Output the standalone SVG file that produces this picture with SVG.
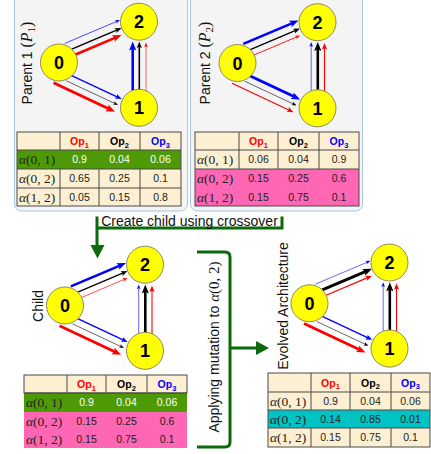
<svg xmlns="http://www.w3.org/2000/svg" width="431" height="454" viewBox="0 0 431 454">
<style>
.panel{fill:#f4f4f4;stroke:#a8c6e4;stroke-width:1}
.node circle{fill:#ffff00;stroke:#8c8c5a;stroke-width:1}
.node text{font-family:"Liberation Sans",Arial,sans-serif;font-weight:bold;font-size:18px;text-anchor:middle;fill:#000}
.e line{fill:none;stroke-linecap:butt}
.r{stroke:#ff0000}.k{stroke:#000000}.b{stroke:#0000ff}
.lbl{font-family:"Liberation Sans",Arial,sans-serif;font-size:14px;fill:#111;text-anchor:middle}
.math{font-family:"Liberation Serif","Times New Roman",serif}
.grid{fill:none;stroke:#4a4a4a;stroke-width:1}
.cr{fill:#fdefd2}.gr{fill:#4e9a06}.pk{fill:#ff66b3}.cy{fill:#00c4c4}
.v{font-family:"Liberation Sans",Arial,sans-serif;font-size:10.5px;text-anchor:middle;fill:#222}
.w{fill:#ffffff}
.a{font-family:"Liberation Serif","Times New Roman",serif;font-size:13.5px;fill:#222}
.op{font-family:"Liberation Sans",Arial,sans-serif;font-weight:bold;font-size:10.5px;text-anchor:middle}
.flow{fill:none;stroke:#0b6a0b;stroke-width:3}
.head{fill:#0b6a0b}
</style>
<defs>
<marker id="rL" markerUnits="userSpaceOnUse" markerWidth="10" markerHeight="8" refX="5" refY="3.6" orient="auto" overflow="visible"><path d="M0,0 L9,3.6 L0,7.2 L1.8,3.6z" fill="#ff0000"/></marker>
<marker id="kL" markerUnits="userSpaceOnUse" markerWidth="10" markerHeight="8" refX="5" refY="3.6" orient="auto" overflow="visible"><path d="M0,0 L9,3.6 L0,7.2 L1.8,3.6z" fill="#000000"/></marker>
<marker id="bL" markerUnits="userSpaceOnUse" markerWidth="10" markerHeight="8" refX="5" refY="3.6" orient="auto" overflow="visible"><path d="M0,0 L9,3.6 L0,7.2 L1.8,3.6z" fill="#0000ff"/></marker>
<marker id="rM" markerUnits="userSpaceOnUse" markerWidth="7" markerHeight="6" refX="2.5" refY="2.6" orient="auto" overflow="visible"><path d="M0,0 L6.5,2.6 L0,5.2 L1.3,2.6z" fill="#ff0000"/></marker>
<marker id="kM" markerUnits="userSpaceOnUse" markerWidth="7" markerHeight="6" refX="2.5" refY="2.6" orient="auto" overflow="visible"><path d="M0,0 L6.5,2.6 L0,5.2 L1.3,2.6z" fill="#000000"/></marker>
<marker id="bM" markerUnits="userSpaceOnUse" markerWidth="7" markerHeight="6" refX="2.5" refY="2.6" orient="auto" overflow="visible"><path d="M0,0 L6.5,2.6 L0,5.2 L1.3,2.6z" fill="#0000ff"/></marker>
<marker id="rS" markerUnits="userSpaceOnUse" markerWidth="5" markerHeight="4" refX="0.8" refY="1.8" orient="auto" overflow="visible"><path d="M0,0 L4.8,1.8 L0,3.6 L1,1.8z" fill="#ff0000"/></marker>
<marker id="kS" markerUnits="userSpaceOnUse" markerWidth="5" markerHeight="4" refX="0.8" refY="1.8" orient="auto" overflow="visible"><path d="M0,0 L4.8,1.8 L0,3.6 L1,1.8z" fill="#000000"/></marker>
<marker id="bS" markerUnits="userSpaceOnUse" markerWidth="5" markerHeight="4" refX="0.8" refY="1.8" orient="auto" overflow="visible"><path d="M0,0 L4.8,1.8 L0,3.6 L1,1.8z" fill="#0000ff"/></marker>
</defs>

<!-- parent panels -->
<rect class="panel" x="14.5" y="-8" width="173" height="219" rx="7"/>
<rect class="panel" x="190.5" y="-8" width="172" height="219" rx="7"/>

<!-- rotated captions -->
<text class="lbl" transform="translate(32,63) rotate(-90)">Parent 1 <tspan class="math" font-size="16">(</tspan><tspan class="math" font-size="16" font-style="italic">P</tspan><tspan class="math" font-size="11" dy="3">1</tspan><tspan class="math" font-size="16" dy="-3">)</tspan></text>
<text class="lbl" transform="translate(210,63) rotate(-90)">Parent 2 <tspan class="math" font-size="16">(</tspan><tspan class="math" font-size="16" font-style="italic">P</tspan><tspan class="math" font-size="11" dy="3">2</tspan><tspan class="math" font-size="16" dy="-3">)</tspan></text>
<text class="lbl" transform="translate(43,306) rotate(-90)">Child</text>
<text class="lbl" transform="translate(288,306) rotate(-90)">Evolved Architecture</text>

<!-- connectors -->
<g id="connectors">
  <g id="p1-edges" class="e" transform="translate(59,62.5)">
    <line class="b" x1="5.8" y1="-19.1" x2="57.3" y2="-40.9" stroke-width="0.7" marker-end="url(#bS)"/>
    <line class="k" x1="12.8" y1="-13.4" x2="58.8" y2="-32.9" stroke-width="1.4" marker-end="url(#kM)"/>
    <line class="r" x1="13.7" y1="-6.8" x2="58.8" y2="-25.9" stroke-width="2.6" marker-end="url(#rL)"/>
    <line class="b" x1="11.1" y1="12.3" x2="59.1" y2="34.8" stroke-width="1.3" marker-end="url(#bM)"/>
    <line class="k" x1="7.4" y1="18.3" x2="55.4" y2="40.8" stroke-width="0.6" marker-end="url(#kS)"/>
    <line class="r" x1="-5.5" y1="20.3" x2="52.4" y2="47.5" stroke-width="2.8" marker-end="url(#rL)"/>
    <line class="b" x1="73.7" y1="28" x2="73.7" y2="-17" stroke-width="2.6" marker-end="url(#bL)"/>
    <line class="k" x1="80.3" y1="28" x2="80.3" y2="-17" stroke-width="1.6" marker-end="url(#kM)"/>
    <line class="r" x1="87" y1="29" x2="87" y2="-16" stroke-width="0.6" marker-end="url(#rS)"/>
  </g>
  <g id="p2-edges" class="e" transform="translate(237.5,63)">
    <line class="b" x1="5.8" y1="-19.1" x2="57.3" y2="-40.9" stroke-width="2.6" marker-end="url(#bL)"/>
    <line class="k" x1="12.8" y1="-13.4" x2="58.8" y2="-32.9" stroke-width="1.3" marker-end="url(#kM)"/>
    <line class="r" x1="13.7" y1="-6.8" x2="58.8" y2="-25.9" stroke-width="0.9" marker-end="url(#rS)"/>
    <line class="b" x1="11.1" y1="12.3" x2="59.1" y2="34.8" stroke-width="2.8" marker-end="url(#bL)"/>
    <line class="k" x1="7.4" y1="18.3" x2="55.4" y2="40.8" stroke-width="0.6" marker-end="url(#kS)"/>
    <line class="r" x1="-5.5" y1="20.3" x2="52.4" y2="47.5" stroke-width="1.2" marker-end="url(#rM)"/>
    <line class="b" x1="73.7" y1="28" x2="73.7" y2="-17" stroke-width="0.6" marker-end="url(#bS)"/>
    <line class="k" x1="80.3" y1="28" x2="80.3" y2="-17" stroke-width="2.6" marker-end="url(#kL)"/>
    <line class="r" x1="87" y1="29" x2="87" y2="-16" stroke-width="1.1" marker-end="url(#rM)"/>
  </g>
  <g id="child-edges" class="e" transform="translate(65,305.5)">
    <line class="b" x1="5.8" y1="-19.1" x2="57.3" y2="-40.9" stroke-width="2.6" marker-end="url(#bL)"/>
    <line class="k" x1="12.8" y1="-13.4" x2="58.8" y2="-32.9" stroke-width="1.3" marker-end="url(#kM)"/>
    <line class="r" x1="13.7" y1="-6.8" x2="58.8" y2="-25.9" stroke-width="0.7" marker-end="url(#rS)"/>
    <line class="b" x1="11.1" y1="12.3" x2="59.1" y2="34.8" stroke-width="1.3" marker-end="url(#bM)"/>
    <line class="k" x1="7.4" y1="18.3" x2="55.4" y2="40.8" stroke-width="0.6" marker-end="url(#kS)"/>
    <line class="r" x1="-5.5" y1="20.3" x2="52.4" y2="47.5" stroke-width="2.8" marker-end="url(#rL)"/>
    <line class="b" x1="73.7" y1="28" x2="73.7" y2="-17" stroke-width="0.6" marker-end="url(#bS)"/>
    <line class="k" x1="80.3" y1="28" x2="80.3" y2="-17" stroke-width="2.6" marker-end="url(#kL)"/>
    <line class="r" x1="87" y1="29" x2="87" y2="-16" stroke-width="1.1" marker-end="url(#rM)"/>
  </g>
  <g id="evolved-edges" class="e" transform="translate(309.5,303.3)">
    <line class="b" x1="5.8" y1="-19.1" x2="57.3" y2="-40.9" stroke-width="0.6" marker-end="url(#bS)"/>
    <line class="k" x1="12.8" y1="-13.4" x2="58.8" y2="-32.9" stroke-width="2.8" marker-end="url(#kL)"/>
    <line class="r" x1="13.7" y1="-6.8" x2="58.8" y2="-25.9" stroke-width="1.2" marker-end="url(#rM)"/>
    <line class="b" x1="11.1" y1="12.3" x2="59.1" y2="34.8" stroke-width="1.3" marker-end="url(#bM)"/>
    <line class="k" x1="7.4" y1="18.3" x2="55.4" y2="40.8" stroke-width="0.6" marker-end="url(#kS)"/>
    <line class="r" x1="-5.5" y1="20.3" x2="52.4" y2="47.5" stroke-width="2.8" marker-end="url(#rL)"/>
    <line class="b" x1="73.7" y1="28" x2="73.7" y2="-17" stroke-width="0.6" marker-end="url(#bS)"/>
    <line class="k" x1="80.3" y1="28" x2="80.3" y2="-17" stroke-width="2.6" marker-end="url(#kL)"/>
    <line class="r" x1="87" y1="29" x2="87" y2="-16" stroke-width="1.1" marker-end="url(#rM)"/>
  </g>
  <!-- crossover and mutation flow -->
  <g id="flow">
    <path class="flow" d="M282,216.5 V228 H97 M97,216.5 V247"/>
    <polygon class="head" points="90.5,245 104.5,245 97.5,258.5"/>
    <path class="flow" d="M197,252 H225 Q230,252 230,257 V442 Q230,447 225,447 H197 M230,348 H258"/>
    <polygon class="head" points="256,341 256,355 269,348"/>
  </g>
</g>
<text class="lbl" x="189.5" y="226" font-size="13.7">Create child using crossover</text>
<text class="lbl" transform="translate(219,347) rotate(-90)" font-size="14.5">Applying mutation to <tspan class="math" font-size="15"><tspan font-style="italic">α</tspan>(0, 2)</tspan></text>

<!-- nodes -->
<g id="p1-n0" class="node"><circle cx="59" cy="62.5" r="18.5"/><text x="59" y="69">0</text></g>
<g id="p1-n1" class="node"><circle cx="139" cy="107.8" r="18.5"/><text x="139" y="114.3">1</text></g>
<g id="p1-n2" class="node"><circle cx="139" cy="21.7" r="18.5"/><text x="139" y="28.2">2</text></g>
<g id="p2-n0" class="node"><circle cx="237.5" cy="63" r="18.5"/><text x="237.5" y="69.5">0</text></g>
<g id="p2-n1" class="node"><circle cx="317.5" cy="108.3" r="18.5"/><text x="317.5" y="114.8">1</text></g>
<g id="p2-n2" class="node"><circle cx="317.5" cy="22.2" r="18.5"/><text x="317.5" y="28.7">2</text></g>
<g id="child-n0" class="node"><circle cx="65" cy="305.5" r="18.5"/><text x="65" y="312">0</text></g>
<g id="child-n1" class="node"><circle cx="145" cy="350.8" r="18.5"/><text x="145" y="357.3">1</text></g>
<g id="child-n2" class="node"><circle cx="145" cy="264.7" r="18.5"/><text x="145" y="271.2">2</text></g>
<g id="evolved-n0" class="node"><circle cx="309.5" cy="303.3" r="18.5"/><text x="309.5" y="309.8">0</text></g>
<g id="evolved-n1" class="node"><circle cx="389.5" cy="348.6" r="18.5"/><text x="389.5" y="355.1">1</text></g>
<g id="evolved-n2" class="node"><circle cx="389.5" cy="262.5" r="18.5"/><text x="389.5" y="269">2</text></g>

<!-- table: parent 1 -->
<g id="table-p1">
  <rect class="cr" x="17" y="132" width="164" height="18"/>
  <rect class="gr" x="17" y="150" width="164" height="19"/>
  <rect class="cr" x="17" y="169" width="164" height="37"/>
  <path class="grid" d="M17,150H181M17,169H181M17,188H181M60,132V150M99,132V150M140,132V150M60,169V206M99,169V206M140,169V206"/>
  <rect class="grid" x="17" y="132" width="164" height="74"/>
  <text class="op" x="79.5" y="145" fill="#ff0000">Op<tspan font-size="7.5" dy="2.5">1</tspan></text>
  <text class="op" x="119.5" y="145" fill="#000000">Op<tspan font-size="7.5" dy="2.5">2</tspan></text>
  <text class="op" x="160.5" y="145" fill="#0000ff">Op<tspan font-size="7.5" dy="2.5">3</tspan></text>
  <text class="a w" x="19" y="164"><tspan font-style="italic">α</tspan>(0, 1)</text>
  <text class="a" x="19" y="183"><tspan font-style="italic">α</tspan>(0, 2)</text>
  <text class="a" x="19" y="201.5"><tspan font-style="italic">α</tspan>(1, 2)</text>
  <text class="v w" x="79.5" y="163.3">0.9</text><text class="v w" x="119.5" y="163.3">0.04</text><text class="v w" x="160.5" y="163.3">0.06</text>
  <text class="v" x="79.5" y="182.3">0.65</text><text class="v" x="119.5" y="182.3">0.25</text><text class="v" x="160.5" y="182.3">0.1</text>
  <text class="v" x="79.5" y="200.8">0.05</text><text class="v" x="119.5" y="200.8">0.15</text><text class="v" x="160.5" y="200.8">0.8</text>
</g>

<!-- table: parent 2 -->
<g id="table-p2">
  <rect class="cr" x="195" y="132" width="164" height="37"/>
  <rect class="pk" x="195" y="169" width="164" height="37"/>
  <path class="grid" d="M195,150H359M195,169H359M239,132V169M278,132V169M319,132V169"/>
  <rect class="grid" x="195" y="132" width="164" height="74"/>
  <text class="op" x="258.5" y="145" fill="#ff0000">Op<tspan font-size="7.5" dy="2.5">1</tspan></text>
  <text class="op" x="298.5" y="145" fill="#000000">Op<tspan font-size="7.5" dy="2.5">2</tspan></text>
  <text class="op" x="339" y="145" fill="#0000ff">Op<tspan font-size="7.5" dy="2.5">3</tspan></text>
  <text class="a" x="197" y="164"><tspan font-style="italic">α</tspan>(0, 1)</text>
  <text class="a" x="197" y="183"><tspan font-style="italic">α</tspan>(0, 2)</text>
  <text class="a" x="197" y="201.5"><tspan font-style="italic">α</tspan>(1, 2)</text>
  <text class="v" x="258.5" y="163.3">0.06</text><text class="v" x="298.5" y="163.3">0.04</text><text class="v" x="339" y="163.3">0.9</text>
  <text class="v" x="258.5" y="182.3">0.15</text><text class="v" x="298.5" y="182.3">0.25</text><text class="v" x="339" y="182.3">0.6</text>
  <text class="v" x="258.5" y="200.8">0.15</text><text class="v" x="298.5" y="200.8">0.75</text><text class="v" x="339" y="200.8">0.1</text>
</g>

<!-- table: child -->
<g id="table-child">
  <rect class="cr" x="24" y="375" width="163" height="18"/>
  <rect class="gr" x="24" y="393" width="163" height="19"/>
  <rect class="pk" x="24" y="412" width="163" height="36"/>
  <path class="grid" d="M24,393H187M67,375V393M106,375V393M147,375V393"/>
  <rect class="grid" x="24" y="375" width="163" height="18"/>
  <text class="op" x="86.5" y="388" fill="#ff0000">Op<tspan font-size="7.5" dy="2.5">1</tspan></text>
  <text class="op" x="126.5" y="388" fill="#000000">Op<tspan font-size="7.5" dy="2.5">2</tspan></text>
  <text class="op" x="167" y="388" fill="#0000ff">Op<tspan font-size="7.5" dy="2.5">3</tspan></text>
  <text class="a w" x="26" y="407"><tspan font-style="italic">α</tspan>(0, 1)</text>
  <text class="a" x="26" y="425.5"><tspan font-style="italic">α</tspan>(0, 2)</text>
  <text class="a" x="26" y="443.5"><tspan font-style="italic">α</tspan>(1, 2)</text>
  <text class="v w" x="86.5" y="406.3">0.9</text><text class="v w" x="126.5" y="406.3">0.04</text><text class="v w" x="167" y="406.3">0.06</text>
  <text class="v" x="86.5" y="424.8">0.15</text><text class="v" x="126.5" y="424.8">0.25</text><text class="v" x="167" y="424.8">0.6</text>
  <text class="v" x="86.5" y="442.8">0.15</text><text class="v" x="126.5" y="442.8">0.75</text><text class="v" x="167" y="442.8">0.1</text>
</g>

<!-- table: evolved architecture -->
<g id="table-evolved">
  <rect class="cr" x="268" y="373" width="162" height="37"/>
  <rect class="cy" x="268" y="410" width="162" height="18"/>
  <rect class="cr" x="268" y="428" width="162" height="19"/>
  <path class="grid" d="M268,392H430M268,410H430M268,428H430M311,373V410M350,373V410M391,373V410M311,428V447M350,428V447M391,428V447"/>
  <rect class="grid" x="268" y="373" width="162" height="74"/>
  <text class="op" x="330.5" y="386.5" fill="#ff0000">Op<tspan font-size="7.5" dy="2.5">1</tspan></text>
  <text class="op" x="370.5" y="386.5" fill="#000000">Op<tspan font-size="7.5" dy="2.5">2</tspan></text>
  <text class="op" x="410.5" y="386.5" fill="#0000ff">Op<tspan font-size="7.5" dy="2.5">3</tspan></text>
  <text class="a" x="270" y="405.5"><tspan font-style="italic">α</tspan>(0, 1)</text>
  <text class="a" x="270" y="423.5"><tspan font-style="italic">α</tspan>(0, 2)</text>
  <text class="a" x="270" y="442"><tspan font-style="italic">α</tspan>(1, 2)</text>
  <text class="v" x="330.5" y="404.8">0.9</text><text class="v" x="370.5" y="404.8">0.04</text><text class="v" x="410.5" y="404.8">0.06</text>
  <text class="v" x="330.5" y="422.8">0.14</text><text class="v" x="370.5" y="422.8">0.85</text><text class="v" x="410.5" y="422.8">0.01</text>
  <text class="v" x="330.5" y="441.3">0.15</text><text class="v" x="370.5" y="441.3">0.75</text><text class="v" x="410.5" y="441.3">0.1</text>
</g>
</svg>
